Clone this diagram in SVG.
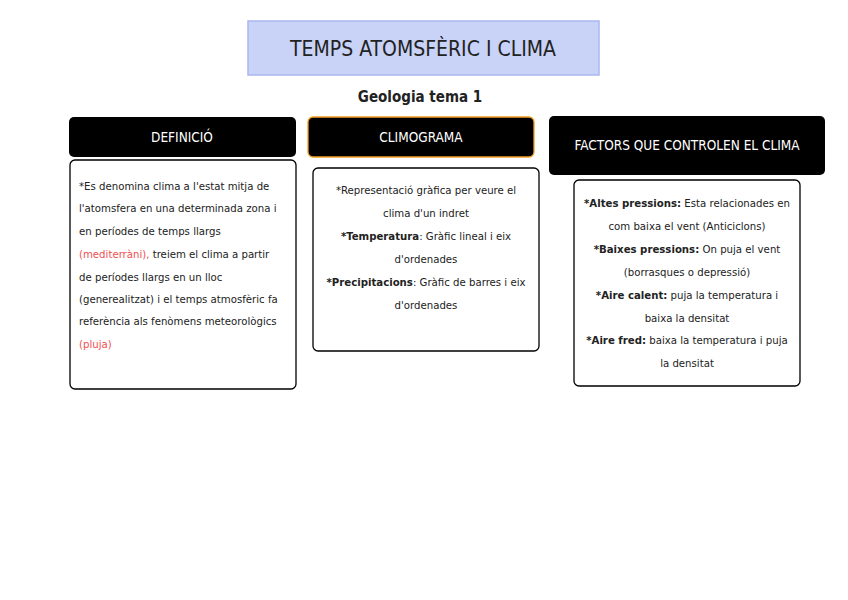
<svg xmlns="http://www.w3.org/2000/svg" width="848" height="600" viewBox="0 0 848 600">
<style>
text{font-family:"DejaVu Sans Condensed","Liberation Sans",sans-serif;fill:#222}
.ht{fill:#fff;font-size:13.5px;text-anchor:middle}
.box{fill:#fff;stroke:#000;stroke-width:1.3}
.t{font-size:11.3px}
.c{text-anchor:middle}
.r{fill:#f05050}
.b{font-weight:bold}
</style>
<rect width="848" height="600" fill="#fff"/>
<g id="title">
<rect x="248" y="21" width="351" height="54" fill="#c9d3f8" stroke="#a9b8ef" stroke-width="1.5"/>
<text x="423" y="56" font-size="21" text-anchor="middle">TEMPS ATOMSFÈRIC I CLIMA</text>
</g>
<g id="subtitle"><text x="420" y="102" font-size="15" font-weight="bold" text-anchor="middle">Geologia tema 1</text></g>
<g id="definicio">
<rect x="69" y="117" width="227" height="40" rx="5" fill="#000"/>
<text x="182" y="142" class="ht">DEFINICIÓ</text>
<rect x="70" y="160" width="226" height="229" rx="5" class="box"/>
<g class="t">
<text x="79" y="190">*Es denomina clima a l'estat mitja de</text>
<text x="79" y="212">l'atomsfera en una determinada zona i</text>
<text x="79" y="235">en períodes de temps llargs</text>
<text x="79" y="258"><tspan class="r">(mediterràni),</tspan> treiem el clima a partir</text>
<text x="79" y="281">de períodes llargs en un lloc</text>
<text x="79" y="303">(generealitzat) i el temps atmosfèric fa</text>
<text x="79" y="325">referència als fenòmens meteorològics</text>
<text x="79" y="348" class="r">(pluja)</text>
</g>
</g>
<g id="climograma">
<rect x="308" y="117" width="226" height="40" rx="5" fill="#000" stroke="#f0a020" stroke-width="1.3"/>
<text x="421" y="142" class="ht">CLIMOGRAMA</text>
<rect x="313" y="168" width="226" height="183" rx="5" class="box"/>
<g class="t c">
<text x="426" y="194">*Representació gràfica per veure el</text>
<text x="426" y="217">clima d'un indret</text>
<text x="426" y="240"><tspan class="b">*Temperatura</tspan>: Gràfic lineal i eix</text>
<text x="426" y="263">d'ordenades</text>
<text x="426" y="286"><tspan class="b">*Precipitacions</tspan>: Gràfic de barres i eix</text>
<text x="426" y="309">d'ordenades</text>
</g>
</g>
<g id="factors">
<rect x="549" y="116" width="276" height="59" rx="5" fill="#000"/>
<text x="687" y="150" class="ht">FACTORS QUE CONTROLEN EL CLIMA</text>
<rect x="574" y="180" width="226" height="206" rx="5" class="box"/>
<g class="t c">
<text x="687" y="207"><tspan class="b">*Altes pressions:</tspan> Esta relacionades en</text>
<text x="687" y="230">com baixa el vent (Anticiclons)</text>
<text x="687" y="253"><tspan class="b">*Baixes pressions:</tspan> On puja el vent</text>
<text x="687" y="276">(borrasques o depressió)</text>
<text x="687" y="299"><tspan class="b">*Aire calent:</tspan> puja la temperatura i</text>
<text x="687" y="322">baixa la densitat</text>
<text x="687" y="344"><tspan class="b">*Aire fred:</tspan> baixa la temperatura i puja</text>
<text x="687" y="367">la densitat</text>
</g>
</g>
<g id="connectors"></g>
</svg>
